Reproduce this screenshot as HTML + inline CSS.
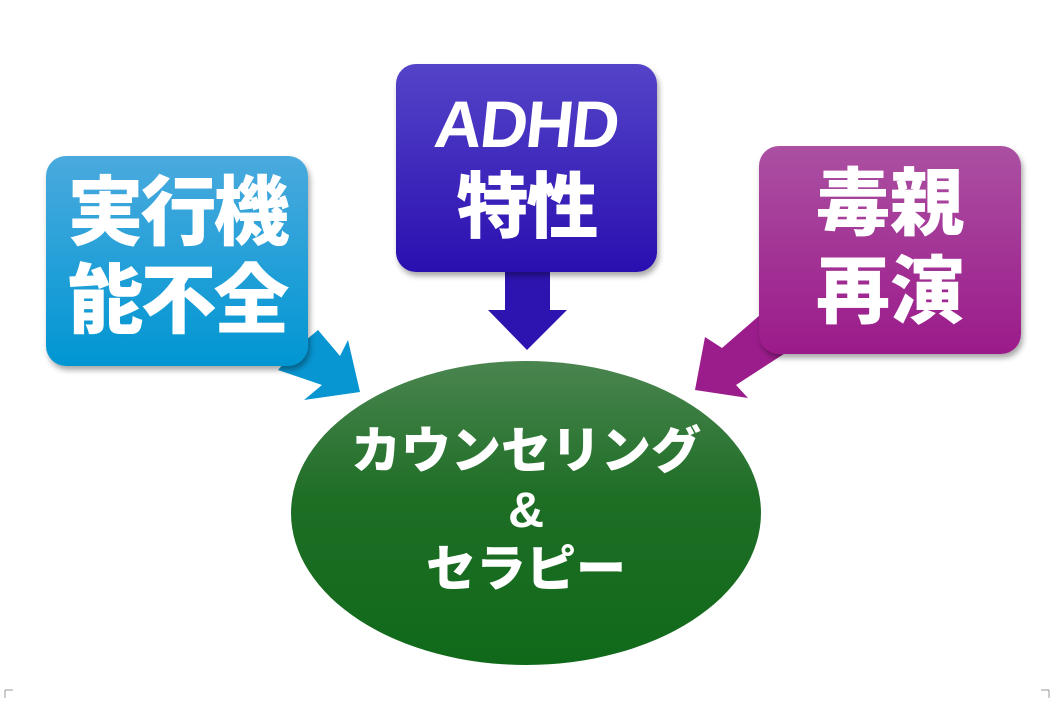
<!DOCTYPE html>
<html><head><meta charset="utf-8"><style>
body{margin:0;width:1054px;height:703px;background:#fff;position:relative;overflow:hidden;font-family:"Liberation Sans","Noto Sans CJK JP",sans-serif}
.box{position:absolute;border-radius:20px;box-shadow:2px 4px 6px rgba(0,0,0,.35);color:#fff;font-weight:900;text-align:center}
.t{position:absolute;color:#fff;font-weight:900;white-space:nowrap;text-align:center}
</style></head><body>
<svg width="1054" height="703" style="position:absolute;left:0;top:0">
<defs>
<linearGradient id="g" x1="0" y1="0" x2="0" y2="1"><stop offset="0" stop-color="#4a8550"/><stop offset="0.45" stop-color="#1e6e25"/><stop offset="1" stop-color="#10691a"/></linearGradient>
</defs>
<polygon points="300,345 318,330 340,356 348,340 360,392 304,400 322,385 278,370" fill="#0896d2"/>
<rect x="505" y="270" width="45" height="42" fill="#2d14b0"/>
<polygon points="488,310 567,310 527,350" fill="#2d14b0"/>
<polygon points="778,330 760,315 722,348 705,337 695,390 748,398 736,385 790,350" fill="#9b1d8c"/>
<ellipse cx="526" cy="513" rx="235" ry="152" fill="url(#g)"/>
<path d="M5 690v8M5 690h8M1049 690v8M1049 690h-8" stroke="#999" fill="none"/>
</svg>
<div class="box" style="left:46px;top:156px;width:262px;height:210px;background:linear-gradient(#4aaade,#0096d2)"></div>
<div class="box" style="left:396px;top:64px;width:261px;height:208px;background:linear-gradient(#5444c8,#2a0fb0)"></div>
<div class="box" style="left:759px;top:146px;width:262px;height:208px;background:linear-gradient(#ab50a2,#9b1a8a)"></div>
<div class="t" style="left:46px;top:170px;width:262px;font-size:76px;line-height:88px;letter-spacing:-3px">実行機<br>能不全</div>
<div class="t" style="left:396px;top:82px;width:261px;font-size:66px;line-height:84px;letter-spacing:-2px"><span style="display:inline-block;transform:skewX(-6deg)">ADHD</span><br><span style="font-size:72px">特性</span></div>
<div class="t" style="left:759px;top:160px;width:262px;font-size:74px;line-height:88px">毒親<br>再演</div>
<div class="t" style="left:291px;top:422px;width:470px;font-size:50px;line-height:59px">カウンセリング<br>&amp;<br>セラピー</div>
</body></html>
